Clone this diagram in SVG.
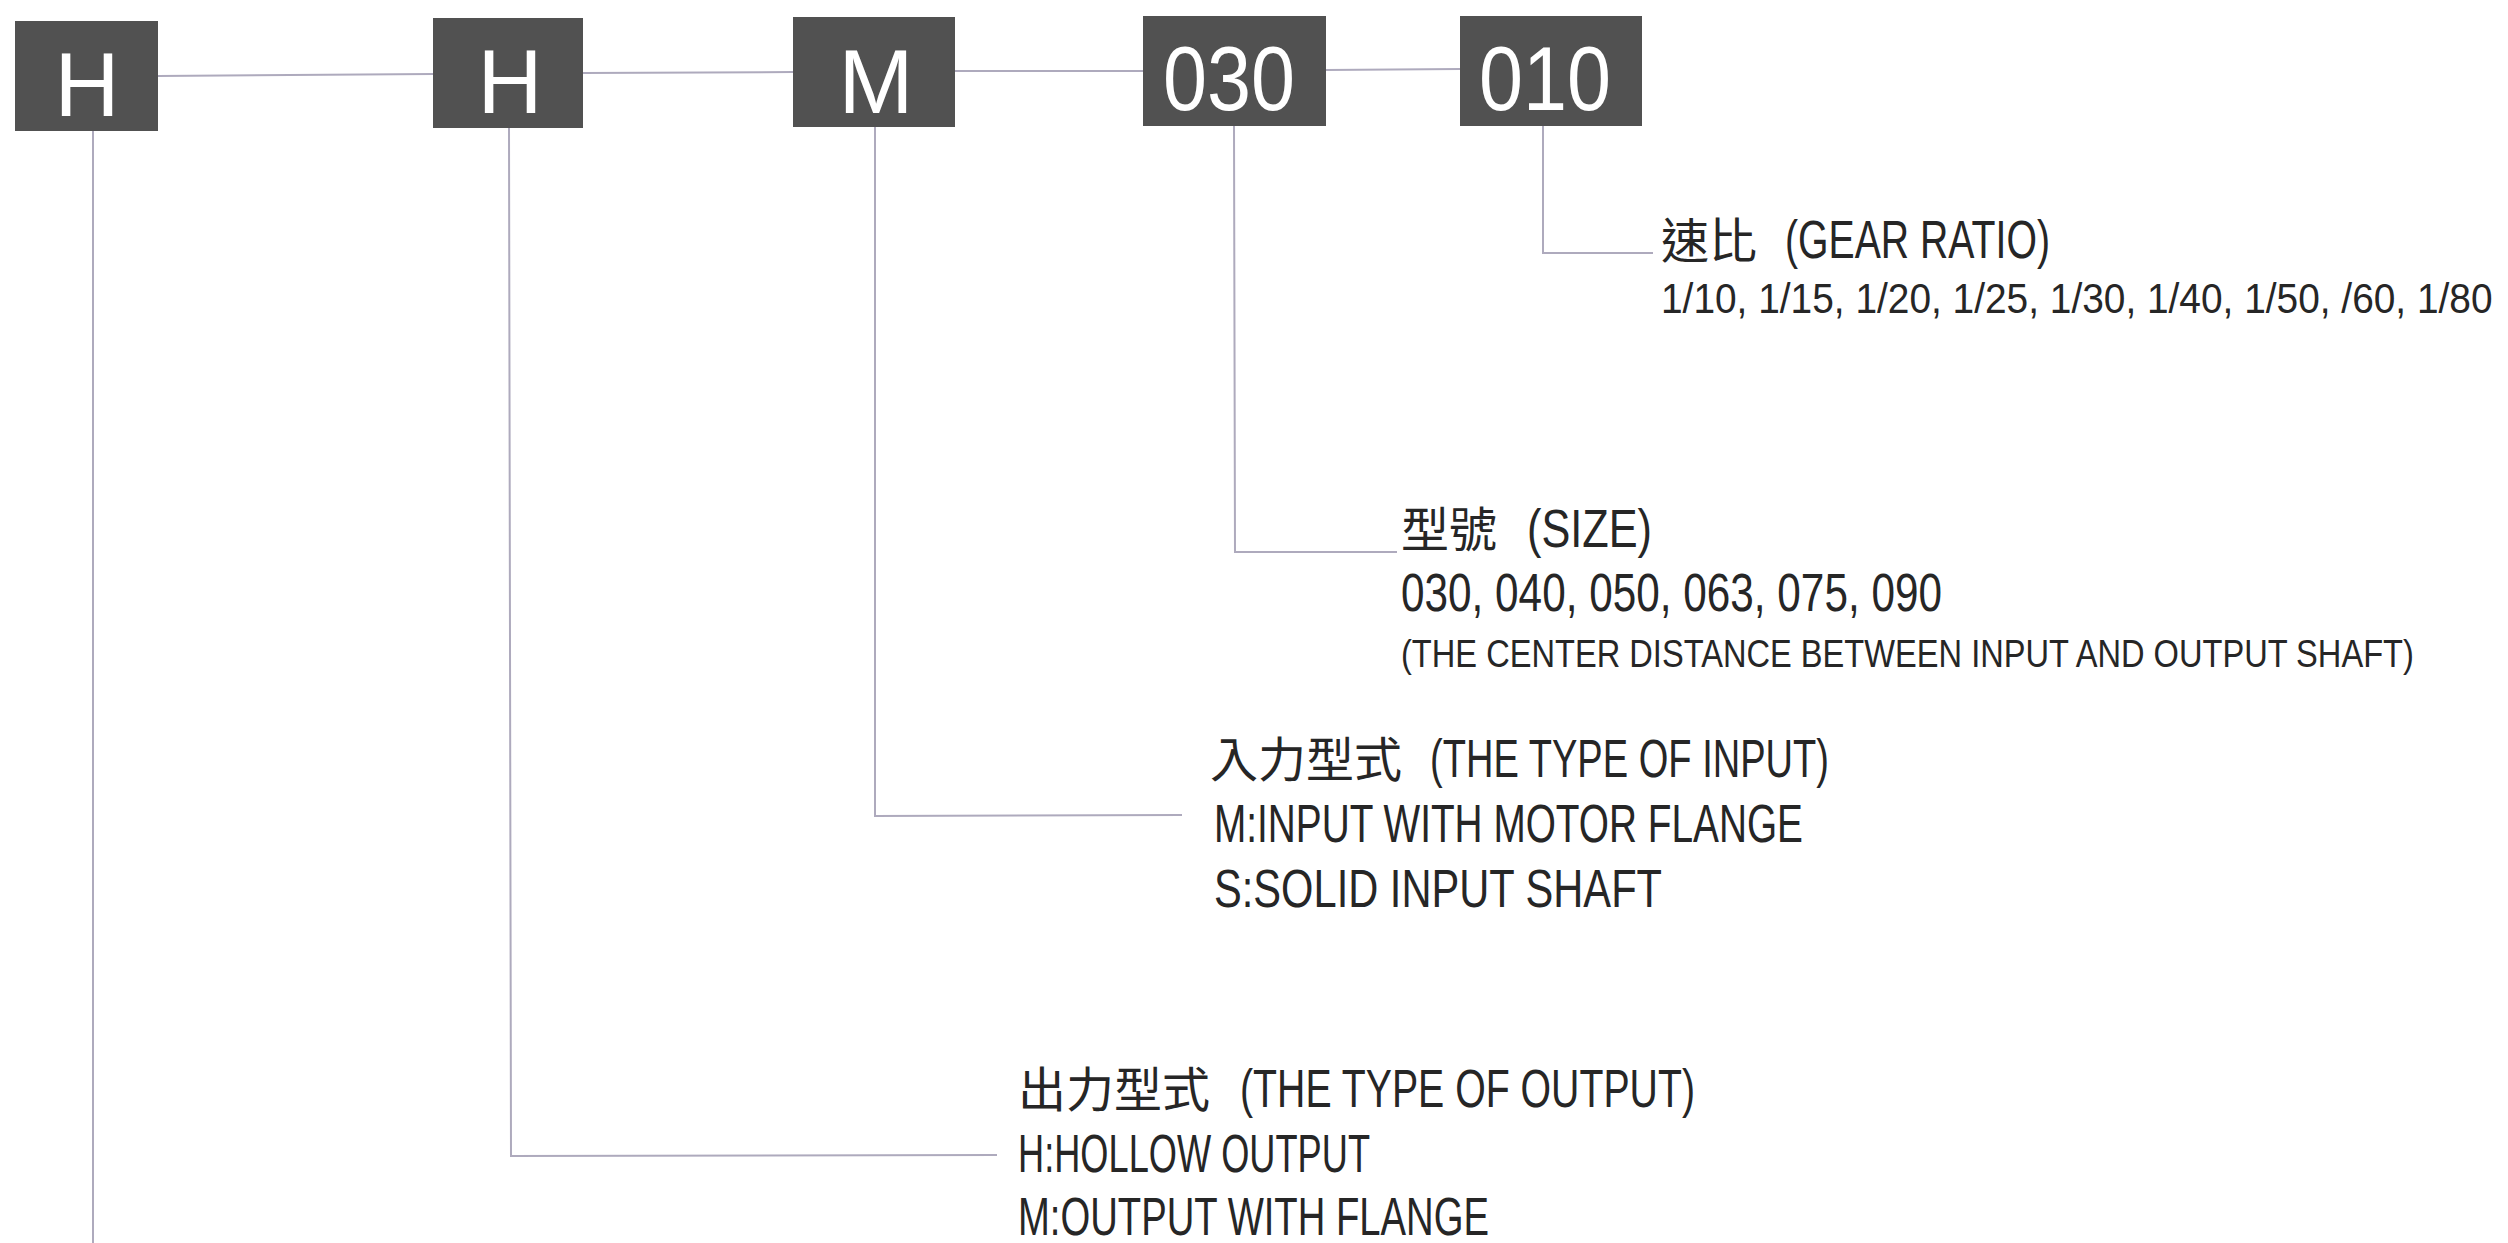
<svg xmlns="http://www.w3.org/2000/svg" width="2508" height="1243" viewBox="0 0 2508 1243">
<style>
.box{fill:#515151}
.bt{fill:#ffffff;font-family:"Liberation Sans",Arial,sans-serif;font-size:90px;text-anchor:middle}
.ln{stroke:#aeaabd;stroke-width:2;fill:none}
.tx{fill:#262626;font-family:"Liberation Sans","Noto Sans CJK TC",sans-serif}
.cjk{font-family:"Noto Sans CJK TC","Noto Sans CJK SC",sans-serif;font-size:48px}
.lat{font-size:53px}
</style>
<rect width="2508" height="1243" fill="#ffffff"/>
<g id="connectors">
<line class="ln" x1="158" y1="76" x2="433" y2="74"/>
<line class="ln" x1="583" y1="73" x2="793" y2="72"/>
<line class="ln" x1="955" y1="71" x2="1143" y2="71"/>
<line class="ln" x1="1326" y1="70" x2="1460" y2="69"/>
<polyline class="ln" points="93,131 93,1243"/>
<polyline class="ln" points="509,128 511,1156 997,1155"/>
<polyline class="ln" points="875,127 875,816 1182,815"/>
<polyline class="ln" points="1234,126 1235,552 1397,552"/>
<polyline class="ln" points="1543,126 1543,253 1653,253"/>
</g>
<g id="node-h1"><rect class="box" x="15" y="21" width="143" height="110"/><text class="bt" x="87" y="116">H</text></g>
<g id="node-h2"><rect class="box" x="433" y="18" width="150" height="110"/><text class="bt" x="510" y="113">H</text></g>
<g id="node-m"><rect class="box" x="793" y="17" width="162" height="110"/><text class="bt" x="876" y="113">M</text></g>
<g id="node-030"><rect class="box" x="1143" y="16" width="183" height="110"/><text class="bt" x="1229" y="110" textLength="132" lengthAdjust="spacingAndGlyphs" font-size="93">030</text></g>
<g id="node-010"><rect class="box" x="1460" y="16" width="182" height="110"/><text class="bt" x="1545" y="110" textLength="132" lengthAdjust="spacingAndGlyphs" font-size="93">010</text></g>
<g id="label-ratio">
<text class="tx" x="1661" y="258"><tspan class="cjk">速比 </tspan><tspan class="lat" x="1785" textLength="265" lengthAdjust="spacingAndGlyphs">(GEAR RATIO)</tspan></text>
<text class="tx" transform="translate(1661,313) scale(0.925,1)" x="0" y="0" font-size="42" textLength="899" lengthAdjust="spacingAndGlyphs">1/10, 1/15, 1/20, 1/25, 1/30, 1/40, 1/50, /60, 1/80</text>
</g>
<g id="label-size">
<text class="tx" x="1401" y="547"><tspan class="cjk">型號 </tspan><tspan class="lat" x="1527" textLength="125" lengthAdjust="spacingAndGlyphs">(SIZE)</tspan></text>
<text class="tx" x="1401" y="611" font-size="53" textLength="541" lengthAdjust="spacingAndGlyphs">030, 040, 050, 063, 075, 090</text>
<text class="tx" transform="translate(1401,667) scale(0.854,1)" x="0" y="0" font-size="38" textLength="1186" lengthAdjust="spacingAndGlyphs">(THE CENTER DISTANCE BETWEEN INPUT AND OUTPUT SHAFT)</text>
</g>
<g id="label-input">
<text class="tx" x="1210" y="777"><tspan class="cjk">入力型式 </tspan><tspan class="lat" x="1430" textLength="399" lengthAdjust="spacingAndGlyphs">(THE TYPE OF INPUT)</tspan></text>
<text class="tx" x="1214" y="842" font-size="53" textLength="589" lengthAdjust="spacingAndGlyphs">M:INPUT WITH MOTOR FLANGE</text>
<text class="tx" x="1214" y="907" font-size="53" textLength="448" lengthAdjust="spacingAndGlyphs">S:SOLID INPUT SHAFT</text>
</g>
<g id="label-output">
<text class="tx" x="1018" y="1107"><tspan class="cjk">出力型式 </tspan><tspan class="lat" x="1240" textLength="455" lengthAdjust="spacingAndGlyphs">(THE TYPE OF OUTPUT)</tspan></text>
<text class="tx" x="1018" y="1172" font-size="53" textLength="352" lengthAdjust="spacingAndGlyphs">H:HOLLOW OUTPUT</text>
<text class="tx" x="1018" y="1235" font-size="53" textLength="471" lengthAdjust="spacingAndGlyphs">M:OUTPUT WITH FLANGE</text>
</g>
</svg>
